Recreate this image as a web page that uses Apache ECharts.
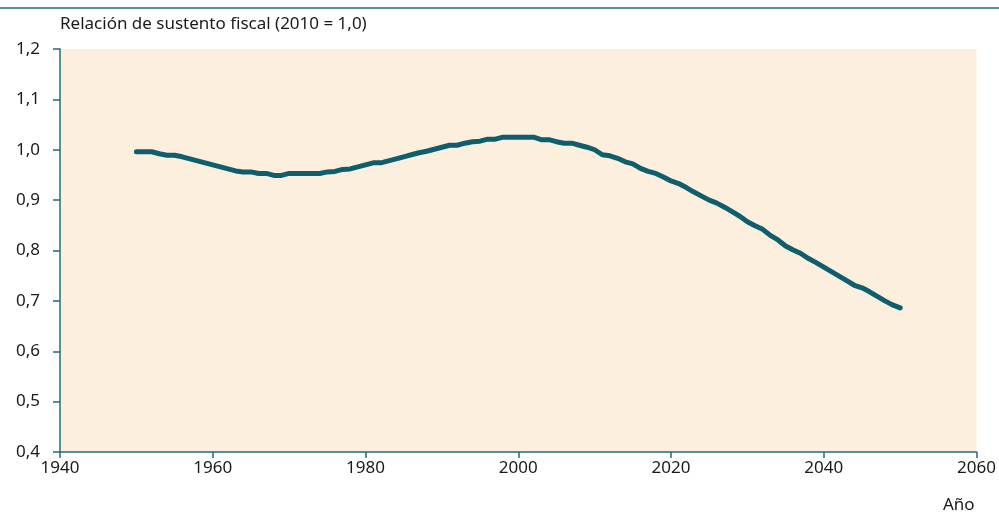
<!DOCTYPE html>
<html>
<head>
<meta charset="utf-8">
<script src="https://cdn.jsdelivr.net/npm/echarts@6/dist/echarts.min.js"></script>
<style>
  html, body { margin: 0; padding: 0; background: #fff; }
  #chart { width: 999px; height: 517px; }
</style>
</head>
<body>
<div id="chart"></div>
<script>
// años y relación de sustento fiscal (2010 = 1,0)
const years = []
for (let y = 1950; y <= 2050; y++) years.push(y)

const ratio = [
  0.996, 0.996, 0.996, 0.992, 0.989, 0.989, 0.986, 0.982, 0.978, 0.974,
  0.970, 0.966, 0.962, 0.958, 0.956, 0.956, 0.953, 0.953, 0.949, 0.949,
  0.953, 0.953, 0.953, 0.953, 0.953, 0.956, 0.957, 0.961, 0.962, 0.966,
  0.970, 0.974, 0.974, 0.978, 0.982, 0.986, 0.990, 0.994, 0.997, 1.001,
  1.005, 1.009, 1.009, 1.013, 1.016, 1.017, 1.021, 1.021, 1.025, 1.025,
  1.025, 1.025, 1.025, 1.020, 1.020, 1.016, 1.013, 1.013, 1.009, 1.005,
  1.000, 0.990, 0.988, 0.983, 0.976, 0.972, 0.963, 0.957, 0.953, 0.946,
  0.938, 0.933, 0.925, 0.916, 0.908, 0.900, 0.894, 0.886, 0.877, 0.868,
  0.857, 0.849, 0.842, 0.830, 0.821, 0.809, 0.801, 0.794, 0.784, 0.776,
  0.767, 0.758, 0.749, 0.740, 0.731, 0.726, 0.718, 0.709, 0.700, 0.692,
  0.686
]

const xTicks = [1940, 1960, 1980, 2000, 2020, 2040, 2060]
const yTicks = [0.4, 0.5, 0.6, 0.7, 0.8, 0.9, 1.0, 1.1, 1.2]

const teal = '#226b7a'
const lineColor = '#0f5e6e'
const font = 'Noto Sans'
const textColor = '#1a1a1a'

const chart = echarts.init(document.getElementById('chart'))
chart.setOption({
  animation: false,
  grid: { left: 60, right: 21, top: 49, bottom: 65 },
  graphic: [
    {
      type: 'line',
      shape: { x1: 0, y1: 8, x2: 999, y2: 8 },
      style: { stroke: teal, lineWidth: 1.5 }
    },
    {
      type: 'text',
      left: 60, top: 16,
      style: { text: 'Relación de sustento fiscal (2010 = 1,0)', fontSize: 17, fontFamily: font, fill: textColor }
    },
    {
      type: 'text',
      left: 943, top: 497,
      style: { text: 'Año', fontSize: 17, fontFamily: font, fill: textColor }
    }
  ],
  xAxis: {
    type: 'value',
    min: xTicks[0],
    max: xTicks[xTicks.length - 1],
    interval: 20,
    axisLine: { lineStyle: { color: teal, width: 1.5 } },
    axisTick: { show: true, length: 6, lineStyle: { color: teal, width: 1.5 } },
    axisLabel: { color: textColor, fontSize: 17, fontFamily: font, margin: 8, formatter: v => String(v) },
    splitLine: { show: false }
  },
  yAxis: {
    type: 'value',
    min: yTicks[0],
    max: yTicks[yTicks.length - 1],
    interval: 0.1,
    axisLine: { show: true, lineStyle: { color: teal, width: 1.5 } },
    axisTick: { show: true, length: 7, lineStyle: { color: teal, width: 1.5 } },
    axisLabel: {
      color: textColor, fontSize: 17, fontFamily: font, margin: 20,
      formatter: v => v.toFixed(1).replace('.', ',')
    },
    splitLine: { show: false },
    splitArea: { show: true, areaStyle: { color: ['#fdefdd'] } }
  },
  series: [
    {
      type: 'line',
      data: years.map((y, i) => [y, ratio[i]]),
      showSymbol: false,
      lineStyle: { color: lineColor, width: 5, cap: 'round', join: 'round' }
    }
  ]
})
</script>
</body>
</html>
